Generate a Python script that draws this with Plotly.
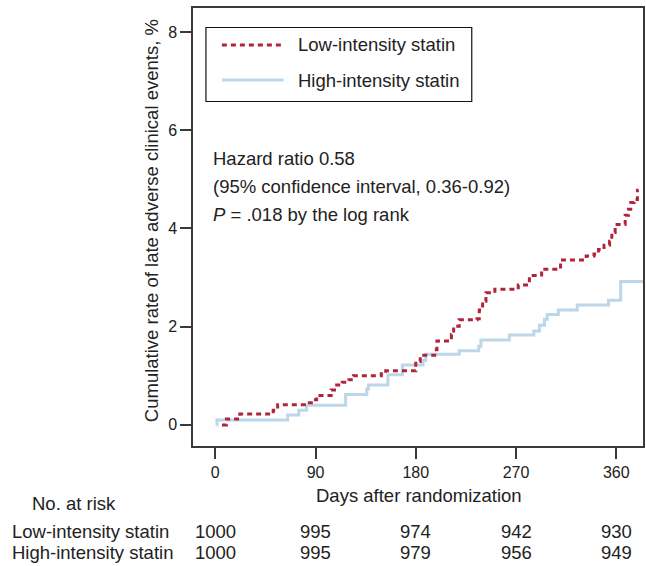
import plotly.graph_objects as go

# ---- data ----
low_days = [6, 10, 22, 52, 56, 80, 88, 91, 104, 107, 114, 120, 124, 149, 153, 180, 184, 197, 199,
            212, 214, 219, 235, 237, 240, 243, 251, 272, 282, 290, 293, 310, 333, 340, 344, 349,
            354, 356, 359, 368, 371, 373, 376, 379, 380]
low_vals = [0.0, 0.12, 0.22, 0.30, 0.41, 0.45, 0.51, 0.60, 0.71, 0.81, 0.87, 0.92, 1.00, 1.04, 1.10,
            1.29, 1.42, 1.53, 1.71, 1.84, 2.01, 2.14, 2.16, 2.34, 2.52, 2.69, 2.76, 2.85, 3.04, 3.05,
            3.17, 3.36, 3.44, 3.48, 3.57, 3.66, 3.74, 3.92, 4.08, 4.27, 4.39, 4.53, 4.59, 4.78, 4.78]

high_days = [1, 1.5, 65, 75, 82, 117, 136, 137.5, 155, 168, 186.5, 189, 219, 236.5, 238.5, 264,
             286, 291, 295.5, 298, 308, 325, 353, 364, 384]
high_vals = [0.0, 0.10, 0.20, 0.30, 0.40, 0.62, 0.73, 0.81, 1.02, 1.22, 1.31, 1.44, 1.51, 1.60, 1.73,
             1.83, 1.91, 2.03, 2.15, 2.25, 2.34, 2.44, 2.54, 2.92, 2.92]

x_ticks = [0, 90, 180, 270, 360]
y_ticks = [0, 2, 4, 6, 8]
risk_low = [1000, 995, 974, 942, 930]
risk_high = [1000, 995, 979, 956, 949]

series_names = ["Low-intensity statin", "High-intensity statin"]
stats_lines = ["Hazard ratio 0.58", "(95% confidence interval, 0.36-0.92)",
               "<i>P</i> = .018 by the log rank"]

RED = "#B0253A"
BLUE = "#BCD6EA"
TXT = "#222222"
AX = "#3a3a3a"
FONT = "Liberation Sans, Arial, sans-serif"

W, H = 646, 566
L, R, T, B = 193, 1, 8, 120
PW, PH = W - L - R, H - T - B


def px(xp):
    return (xp - L) / PW


def py(yp):
    return (H - B - yp) / PH


fig = go.Figure()
fig.add_trace(go.Scatter(x=high_days, y=high_vals, mode="lines", name=series_names[1],
                         line=dict(color=BLUE, width=3, shape="hv")))
fig.add_trace(go.Scatter(x=low_days, y=low_vals, mode="lines", name=series_names[0],
                         line=dict(color=RED, width=3, shape="hv", dash="5px,4px")))

ann = []
# y title
ann.append(dict(text="Cumulative rate of late adverse clinical events, %", xref="paper", yref="paper",
                x=px(152), y=py(221), textangle=-90, showarrow=False, xanchor="center",
                yanchor="middle", font=dict(size=18.5, color=TXT, family=FONT)))
# x title
ann.append(dict(text="Days after randomization", xref="paper", yref="paper", x=px(420), y=py(495),
                showarrow=False, xanchor="center", yanchor="middle",
                font=dict(size=18.5, color=TXT, family=FONT)))
# stats text
for t, yy in zip(stats_lines, [158, 186, 214]):
    ann.append(dict(text=t, xref="paper", yref="paper", x=px(211), y=py(yy), showarrow=False,
                    xanchor="left", yanchor="middle", font=dict(size=18.5, color=TXT, family=FONT)))
# legend (manual)
fig.add_shape(type="rect", xref="paper", yref="paper", x0=px(206), x1=px(473), y0=py(27.5), y1=py(101.5),
              line=dict(color="#111111", width=1.2), fillcolor="white", layer="above")
fig.add_shape(type="line", xref="paper", yref="paper", x0=px(222), x1=px(284), y0=py(45), y1=py(45),
              line=dict(color=RED, width=3, dash="5px,4px"), layer="above")
fig.add_shape(type="line", xref="paper", yref="paper", x0=px(222), x1=px(284), y0=py(80), y1=py(80),
              line=dict(color=BLUE, width=3), layer="above")
for name, yy in zip(series_names, [45, 80]):
    ann.append(dict(text=name, xref="paper", yref="paper", x=px(296), y=py(yy), showarrow=False,
                    xanchor="left", yanchor="middle", font=dict(size=18.5, color=TXT, family=FONT)))
# number at risk table
ann.append(dict(text="No. at risk", xref="paper", yref="paper", x=px(29), y=py(503), showarrow=False,
                xanchor="left", yanchor="middle", font=dict(size=18.5, color=TXT, family=FONT)))
for name, vals, yy in zip(series_names, [risk_low, risk_high], [531, 552]):
    ann.append(dict(text=name, xref="paper", yref="paper", x=px(9), y=py(yy), showarrow=False,
                    xanchor="left", yanchor="middle", font=dict(size=18.5, color=TXT, family=FONT)))
    for d, v in zip(x_ticks, vals):
        ann.append(dict(text=str(v), xref="x", yref="paper", x=d, y=py(yy), showarrow=False,
                        xanchor="center", yanchor="middle",
                        font=dict(size=18.5, color=TXT, family=FONT)))

fig.update_layout(
    width=W, height=H,
    margin=dict(l=L, r=R, t=T, b=B),
    plot_bgcolor="white", paper_bgcolor="white",
    showlegend=False,
    annotations=ann,
    font=dict(family=FONT, color=TXT),
    xaxis=dict(range=[-20, 384], tickvals=x_ticks, ticks="outside", ticklen=11, tickwidth=1.5,
               tickcolor=AX, showline=True, linecolor=AX, linewidth=1.5, mirror=True,
               showgrid=False, zeroline=False, tickfont=dict(size=16, color=TXT, family=FONT)),
    yaxis=dict(range=[-0.43, 8.49], tickvals=y_ticks, ticks="outside", ticklen=11, tickwidth=1.5,
               tickcolor=AX, showline=True, linecolor=AX, linewidth=1.5, mirror=True,
               showgrid=False, zeroline=False, tickfont=dict(size=16, color=TXT, family=FONT)),
)

fig.write_html("out.html", config={"displayModeBar": False},
               post_script="document.body.style.margin='0';document.body.style.overflow='hidden';")
